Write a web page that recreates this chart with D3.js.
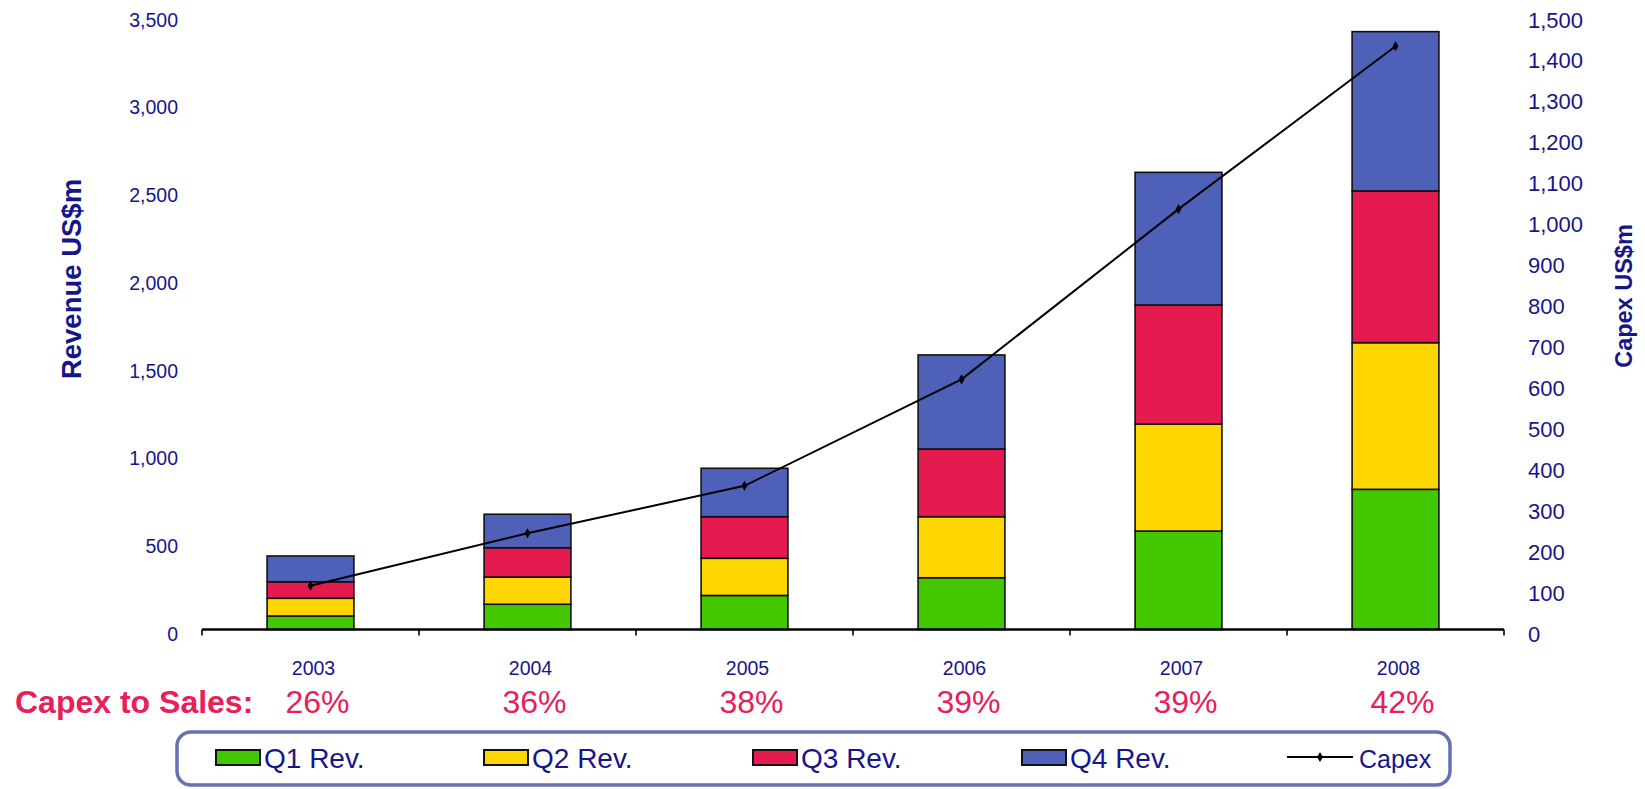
<!DOCTYPE html>
<html>
<head>
<meta charset="utf-8">
<script src="https://cdn.jsdelivr.net/npm/d3@7"></script>
<style>
  html, body { margin: 0; padding: 0; background: #ffffff; }
  svg { display: block; font-family: Arial, "Liberation Sans", Helvetica, sans-serif; }
</style>
</head>
<body>
<svg id="chart" width="1645" height="789"></svg>
<script>
// Quarterly revenue (US$m) by year, capex (US$m) and capex-to-sales ratios
const years = ["2003", "2004", "2005", "2006", "2007", "2008"];
const q1Rev = [77, 144, 194, 295, 561, 799];
const q2Rev = [101, 155, 212, 348, 610, 836];
const q3Rev = [94, 167, 237, 386, 679, 865];
const q4Rev = [147, 191, 276, 536, 756, 908];
const capex = [107, 235, 351, 611, 1027, 1425];
const capexToSales = ["26%", "36%", "38%", "39%", "39%", "42%"];
const revenueTicks = [0, 500, 1000, 1500, 2000, 2500, 3000, 3500];
const capexTicks = [0, 100, 200, 300, 400, 500, 600, 700, 800, 900, 1000, 1100, 1200, 1300, 1400, 1500];
const seriesNames = ["Q1 Rev.", "Q2 Rev.", "Q3 Rev.", "Q4 Rev."];
const seriesColors = ["#43c800", "#ffd700", "#e51a4f", "#4f60b8"];

const navy = "#16168a";
const crimson = "#e5205a";

const svg = d3.select("#chart");

// Scales
const x = d3.scaleBand().domain(years).range([202, 1504]).padding(0);
const barW = x.bandwidth() * 0.4;
const yRev = d3.scaleLinear().domain([0, 3500]).range([629.5, 15.5]);
const yCap = d3.scaleLinear().domain([0, 1500]).range([629.5, 15.5]);

// Stacked revenue bars
const rows = years.map((yr, i) => ({ year: yr, q1: q1Rev[i], q2: q2Rev[i], q3: q3Rev[i], q4: q4Rev[i] }));
const stacked = d3.stack().keys(["q1", "q2", "q3", "q4"])(rows);

const barsG = svg.append("g");
stacked.forEach((layer, li) => {
  barsG.selectAll(null)
    .data(layer)
    .join("rect")
    .attr("x", d => x(d.data.year) + (x.bandwidth() - barW) / 2)
    .attr("y", d => yRev(d[1]))
    .attr("width", barW)
    .attr("height", d => yRev(d[0]) - yRev(d[1]))
    .attr("fill", seriesColors[li])
    .attr("stroke", "#111")
    .attr("stroke-width", 1.6);
});

// Category axis: baseline with downward ticks on category boundaries
const axisG = svg.append("g");
axisG.append("line")
  .attr("x1", x.range()[0]).attr("x2", x.range()[1])
  .attr("y1", yRev(0)).attr("y2", yRev(0))
  .attr("stroke", "#000").attr("stroke-width", 2.6);
const boundaries = years.map(yr => x(yr)).concat([x.range()[1]]);
axisG.selectAll(null)
  .data(boundaries)
  .join("line")
  .attr("x1", d => d).attr("x2", d => d)
  .attr("y1", yRev(0)).attr("y2", yRev(0) + 6)
  .attr("stroke", "#000").attr("stroke-width", 1.6);

// Year labels
svg.append("g").selectAll(null)
  .data(years)
  .join("text")
  .attr("x", d => x(d) + x.bandwidth() / 2 + 3)
  .attr("y", 675)
  .attr("text-anchor", "middle")
  .attr("fill", navy)
  .attr("font-size", 19.5)
  .text(d => d);

// Left axis (revenue)
const leftAxis = svg.append("g")
  .attr("transform", "translate(186,0)")
  .call(d3.axisLeft(yRev).tickValues(revenueTicks).tickSize(0).tickPadding(8).tickFormat(d3.format(",")));
leftAxis.select(".domain").remove();
leftAxis.selectAll("text")
  .attr("y", 4.5)
  .attr("fill", navy)
  .attr("font-size", 19.5)
  .attr("font-family", "Arial, 'Liberation Sans', sans-serif");

// Right axis (capex)
const rightAxis = svg.append("g")
  .attr("transform", "translate(1520,0)")
  .call(d3.axisRight(yCap).tickValues(capexTicks).tickSize(0).tickPadding(8).tickFormat(d3.format(",")));
rightAxis.select(".domain").remove();
rightAxis.selectAll("text")
  .attr("y", 4.5)
  .attr("fill", navy)
  .attr("font-size", 22)
  .attr("font-family", "Arial, 'Liberation Sans', sans-serif");

// Axis titles
svg.append("text")
  .attr("transform", "translate(81,279) rotate(-90)")
  .attr("text-anchor", "middle")
  .attr("fill", navy)
  .attr("font-size", 27.5)
  .attr("font-weight", "bold")
  .text("Revenue US$m");
svg.append("text")
  .attr("transform", "translate(1632,296) rotate(-90)")
  .attr("text-anchor", "middle")
  .attr("fill", navy)
  .attr("font-size", 23.5)
  .attr("font-weight", "bold")
  .text("Capex US$m");

// Capex line with diamond markers
const capLine = d3.line()
  .x((d, i) => x(years[i]) + x.bandwidth() / 2)
  .y(d => yCap(d));
svg.append("path")
  .datum(capex)
  .attr("d", capLine)
  .attr("fill", "none")
  .attr("stroke", "#000")
  .attr("stroke-width", 2);
svg.append("g").selectAll(null)
  .data(capex)
  .join("path")
  .attr("transform", (d, i) => `translate(${x(years[i]) + x.bandwidth() / 2},${yCap(d)})`)
  .attr("d", d3.symbol(d3.symbolDiamond, 30))
  .attr("fill", "#000");

// Capex-to-sales row
svg.append("text")
  .attr("x", 15)
  .attr("y", 713)
  .attr("fill", crimson)
  .attr("font-size", 32)
  .attr("font-weight", "bold")
  .text("Capex to Sales:");
svg.append("g").selectAll(null)
  .data(capexToSales)
  .join("text")
  .attr("x", (d, i) => x(years[i]) + x.bandwidth() / 2 + 7)
  .attr("y", 713)
  .attr("text-anchor", "middle")
  .attr("fill", crimson)
  .attr("font-size", 32)
  .text(d => d);

// Legend
const legend = svg.append("g");
legend.append("rect")
  .attr("x", 177).attr("y", 732)
  .attr("width", 1273).attr("height", 53)
  .attr("rx", 14).attr("ry", 14)
  .attr("fill", "#fff")
  .attr("stroke", "#6670b2")
  .attr("stroke-width", 3.5);

const swatchX = [216, 484, 753, 1022];
seriesNames.forEach((name, i) => {
  legend.append("rect")
    .attr("x", swatchX[i]).attr("y", 750)
    .attr("width", 44).attr("height", 15)
    .attr("fill", seriesColors[i])
    .attr("stroke", "#111")
    .attr("stroke-width", 2);
  legend.append("text")
    .attr("x", swatchX[i] + 48).attr("y", 768)
    .attr("fill", navy)
    .attr("font-size", 28)
    .text(name);
});
legend.append("line")
  .attr("x1", 1287).attr("x2", 1353)
  .attr("y1", 757).attr("y2", 757)
  .attr("stroke", "#000").attr("stroke-width", 2);
legend.append("path")
  .attr("transform", "translate(1320,757)")
  .attr("d", d3.symbol(d3.symbolDiamond, 30))
  .attr("fill", "#000");
legend.append("text")
  .attr("x", 1359).attr("y", 768)
  .attr("fill", navy)
  .attr("font-size", 25)
  .text("Capex");
</script>
</body>
</html>
